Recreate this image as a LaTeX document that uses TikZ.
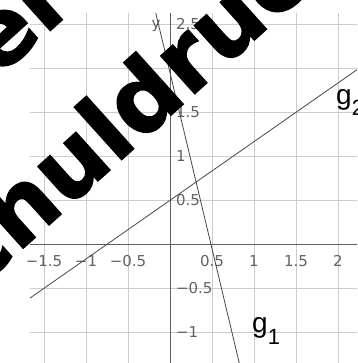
\documentclass[tikz,border=0pt]{standalone}
\usepackage{fontspec}
\setmainfont{DejaVu Sans}
\newfontfamily\lblfont{Liberation Sans}
\newfontfamily\wmfont[FakeBold=1.5]{DejaVu Sans Bold}
\begin{document}
\begin{tikzpicture}[x=84pt,y=88pt,
  gridline/.style={draw=black!20, line width=0.9pt},
  axisline/.style={draw=black!62, line width=1pt},
  graphline/.style={draw=black!72, line width=0.8pt},
  ticklbl/.style={text=black!62, font=\fontsize{15}{15}\selectfont, inner sep=0pt},
  glabel/.style={font=\lblfont\fontsize{28}{28}\selectfont, inner sep=0pt, anchor=base west},
  wm/.style={font=\wmfont\fontsize{93}{93}\selectfont, inner sep=0pt, rotate=42, anchor=base west}]
\useasboundingbox (-170pt,-118.7pt) rectangle (187pt,244.3pt);
\clip (-170pt,-118.7pt) rectangle (187pt,244.3pt);
% grid
\foreach \x in {-1.5,-1,-0.5,0.5,1,1.5,2} \draw[gridline] (\x,-1.36) -- (\x,2.628);
\foreach \y in {-1,-0.5,0.5,1,1.5,2,2.5} \draw[gridline] (-1.667,\y) -- (2.24,\y);
% axes
\coordinate (xa) at (-1.667,0);
\coordinate (xb) at (2.24,0);
\coordinate (ya) at (0,-1.36);
\coordinate (yb) at (0,2.628);
\draw[axisline] (xa) -- (xb);
\draw[axisline] (ya) -- (yb);
% tick labels
\foreach \x/\t [count=\i] in {-1.5/−1.5,-1/−1,-0.5/−0.5,0.5/0.5,1/1,1.5/1.5,2/2}
  \node[ticklbl, anchor=base] (xl\i) at ([yshift=-22.7pt]\x,0) {\t};
\foreach \y/\t [count=\i] in {-1/−1,-0.5/−0.5,0.5/0.5,1/1,1.5/1.5,2/2,2.5/2.5}
  \node[ticklbl, anchor=west] (yl\i) at ([xshift=5.8pt]0,\y) {\t};
\node[ticklbl] (ylab) at (-14pt,218pt) {y};
% graphs
\coordinate (g1a) at (-0.1695,2.628);
\coordinate (g1b) at (0.825,-1.35);
\coordinate (g2a) at (-1.667,-0.6113);
\coordinate (g2b) at (2.24,1.9933);
\draw[graphline] (g1a) -- (g1b);
\draw[graphline] (g2a) -- (g2b);
\node[glabel] (g1) at (82pt,-88.2pt) {g\raisebox{-11.5pt}{\fontsize{22}{22}\selectfont 1}};
\node[glabel] (g2) at (166pt,139.8pt) {g\raisebox{-11.5pt}{\fontsize{22}{22}\selectfont 2}};
% watermark
\node[wm] (wm1) at (-243.5pt,-91pt) {Schuldruck};
\node[wm] (wm2) at (-172.5pt,166.2pt) {el};
\end{tikzpicture}
\end{document}
